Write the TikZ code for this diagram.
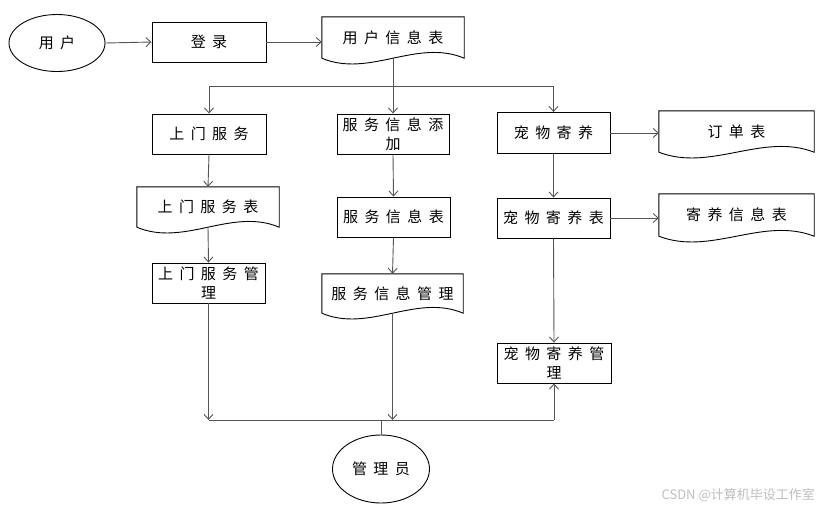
\documentclass[tikz,border=0pt]{standalone}
\usepackage{fontspec}
\setmainfont{Noto Sans CJK SC}[LetterSpace=43]
\newfontfamily\wmfont{Noto Sans CJK SC}
\usetikzlibrary{arrows.meta,shapes.geometric,calc}
\definecolor{conn}{RGB}{85,85,85}
\definecolor{wm}{RGB}{190,190,190}
\newcommand\docwave[1]{%
  \draw[outline] let \p1=(#1.south west), \p2=(#1.south east), \n1={(\x2-\x1)/3} in
    (#1.south west) -- (#1.north west) -- (#1.north east) -- (#1.south east)
    .. controls +(-\n1,-20) and +(\n1,20) .. (#1.south west);}
\begin{document}
\begin{tikzpicture}[x=1pt,y=-1pt,
  every node/.style={font=\fontsize{15}{19}\selectfont, inner sep=0pt, align=center},
  outline/.style={draw=black, line width=0.9pt},
  box/.style={outline, rectangle, minimum height=40pt},
  docnode/.style={rectangle, draw=none},
  oval/.style={outline, ellipse},
  arr/.style={draw=conn, line width=0.9pt, -{Straight Barb[length=5pt,width=9pt]}},
  ln/.style={draw=conn, line width=0.9pt}
]
\useasboundingbox (0,0) rectangle (826,512);
% nodes
\node[oval, minimum width=96pt, minimum height=57pt] (user) at (57,43) {用户};
\node[box, minimum width=114pt] (login) at (209,42) {登录};
\node[docnode, minimum width=142pt, minimum height=41pt] (uinfo) at (393,37.5) {用户信息表};
\node[box, minimum width=114pt] (smfw) at (209,134) {上门服务};
\node[box, minimum width=112pt] (fwadd) at (393,134) {服务信息添\\加};
\node[box, minimum width=113pt, minimum height=41pt] (cwjy) at (553.5,133) {宠物寄养};
\node[docnode, minimum width=155pt, minimum height=41pt] (order) at (736.5,131.5) {订单表};
\node[box, minimum width=113pt] (cwjyb) at (553.5,218) {宠物寄养表};
\node[docnode, minimum width=155pt, minimum height=42pt] (jyinfo) at (736.5,215) {寄养信息表};
\node[docnode, minimum width=142pt, minimum height=40pt] (smfwb) at (208,207) {上门服务表};
\node[box, minimum width=113pt] (smfwgl) at (208.5,283) {上门服务管\\理};
\node[box, minimum width=113pt] (fwb) at (393.5,217) {服务信息表};
\node[docnode, minimum width=141pt, minimum height=39pt] (fwgl) at (392.5,293.5) {服务信息管理};
\node[box, minimum width=114pt] (cwgl) at (554,363) {宠物寄养管\\理};
\node[oval, minimum width=97pt, minimum height=68pt] (admin) at (381,469) {管理员};
\node[font=\wmfont\fontsize{13}{15}\selectfont, text=wm, anchor=east] (wmark) at (815,495) {CSDN @计算机毕设工作室};
% document shapes
\docwave{uinfo}
\docwave{order}
\docwave{jyinfo}
\docwave{smfwb}
\docwave{fwgl}
% junctions
\coordinate (j1) at (393,86);
\coordinate (j2) at (381,420);
% connectors
\draw[arr] (user.east) -- (login.west);
\draw[arr] (login.east) -- (login.east -| uinfo.west);
\draw[arr] (uinfo.south) -- (fwadd.north);
\draw[arr] (j1) -| (smfw.north);
\draw[arr] (j1) -| (cwjy.north);
\draw[arr] (smfw.south) -- (smfwb.north);
\draw[arr] (smfwb.south) -- (smfwgl.north);
\draw[arr] (fwadd.south) -- (fwb.north);
\draw[arr] (fwb.south) -- (fwgl.north);
\draw[arr] (cwjy.east) -- (cwjy.east -| order.west);
\draw[arr] (cwjy.south) -- (cwjyb.north);
\draw[arr] (cwjyb.east) -- (cwjyb.east -| jyinfo.west);
\draw[arr] (cwjyb.south) -- (cwgl.north);
\draw[arr] (smfwgl.south) -- (smfwgl.south |- j2);
\draw[arr] (fwgl.south) -- (fwgl.south |- j2);
\draw[ln] (smfwgl.south |- j2) -- (cwgl.south |- j2);
\draw[arr] (cwgl.south |- j2) -- (cwgl.south);
\draw[ln] (j2) -- (admin.north);
\end{tikzpicture}
\end{document}
